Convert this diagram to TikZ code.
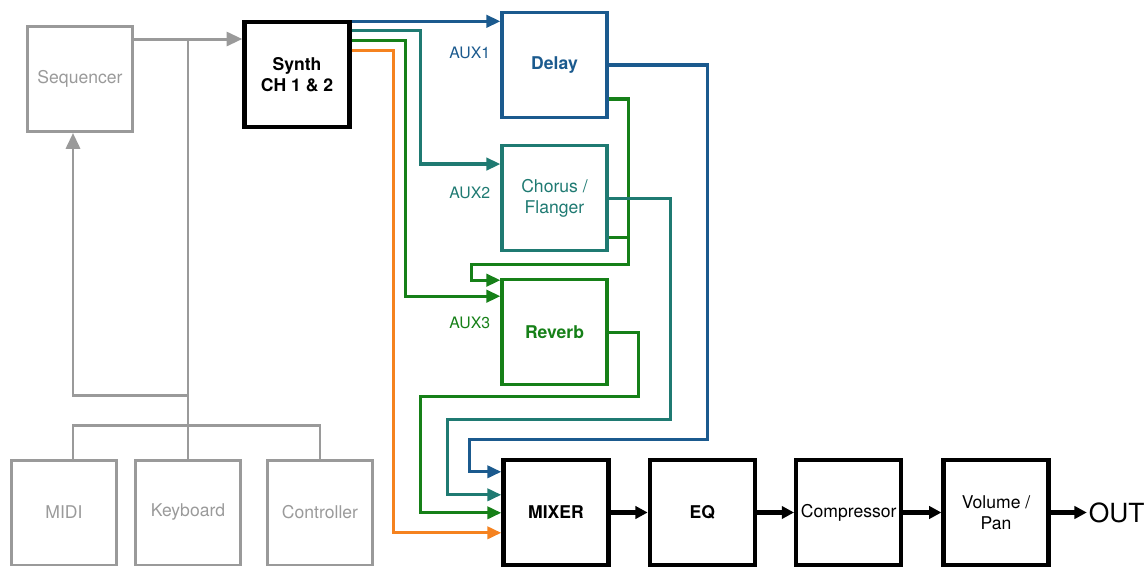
\documentclass[tikz,border=0pt]{standalone}
\usepackage{fontspec}
\setmainfont{TeX Gyre Heros}
\usepackage{xcolor}
\definecolor{AuxBlue}{HTML}{1B5A8E}
\definecolor{AuxTeal}{HTML}{1F7A72}
\definecolor{AuxGreen}{HTML}{168018}
\definecolor{DryOrange}{HTML}{F5821F}
\definecolor{CtrlGray}{HTML}{9A9A9A}
\usetikzlibrary{arrows.meta}
\usetikzlibrary{calc}
\usetikzlibrary{positioning}

\begin{document}
\begin{tikzpicture}[x=0.02cm, y=-0.02cm,
    box/.style={shape=rectangle, minimum size=2.1cm, align=center, inner sep=0pt},
    ctrlbox/.style={box, draw=CtrlGray, text=CtrlGray, line width=1.7pt},
    fxbox/.style={box, draw=#1, text=#1, line width=1.8pt},
    mainbox/.style={box, draw=black, line width=2.5pt},
    ctrlline/.style={draw=CtrlGray, line width=1.7pt},
    ctrlarrow/.style={ctrlline, -{Triangle[length=9pt,width=8pt]}},
    sendline/.style={draw=#1, line width=1.8pt, -{Triangle[length=8pt,width=7pt]}},
    mainline/.style={line width=2.5pt, -{Triangle[length=7pt,width=7pt]}},
    auxlabel/.style={font=\small, anchor=east, inner sep=0pt}]

    \useasboundingbox (0,0) rectangle (1145,567);

    \node[name=seq, ctrlbox] at (80,79) {Sequencer};
    \node[name=synth, mainbox, font=\bfseries] at (297,74.5) {Synth\\CH 1 \& 2};
    \node[name=midi, ctrlbox] at (64,512.5) {MIDI};
    \node[name=kbd, ctrlbox] at (188,512.5) {Keyboard};
    \node[name=ctrl, ctrlbox] at (320,512.5) {Controller};

    \node[name=delay, fxbox=AuxBlue, font=\bfseries] at (554.5,65) {Delay};
    \node[name=chorus, fxbox=AuxTeal, below=0.5cm of delay] {Chorus /\\Flanger};
    \node[name=reverb, fxbox=AuxGreen, font=\bfseries, below=0.52cm of chorus] {Reverb};

    \node[name=aux1, auxlabel, text=AuxBlue] at ($(delay.west)+(-10,-12)$) {AUX1};
    \node[name=aux2, auxlabel, text=AuxTeal] at ($(chorus.west)+(-10,-5)$) {AUX2};
    \node[name=aux3, auxlabel, text=AuxGreen] at ($(reverb.west)+(-10,-9)$) {AUX3};

    \node[name=mixer, mainbox, font=\bfseries] at (556,512.5) {MIXER};
    \node[name=eq, mainbox, font=\bfseries, right=0.74cm of mixer] {EQ};
    \node[name=comp, mainbox, right=0.74cm of eq] {Compressor};
    \node[name=vol, mainbox, right=0.76cm of comp] {Volume /\\Pan};
    \node[name=out, right=0.72cm of vol, inner sep=1pt,
      font=\fontsize{15}{18}\selectfont] {OUT};

    % control inputs
    \coordinate (seqout) at ($(seq.north east)+(0,14)$);
    \coordinate (hub) at ($(kbd.north)+(0,-33)$);
    \coordinate (split) at ($(kbd.north)+(0,-63)$);
    \draw[ctrlarrow] (seqout) -- (synth.west |- seqout);
    \draw[ctrlline] (kbd.north) -- (kbd.north |- seqout);
    \draw[ctrlline] ($(midi.north)+(9,0)$) |- (hub) -| (ctrl.north);
    \draw[ctrlarrow] (split) -| ($(seq.south)+(-7,0)$);

    % sends
    \coordinate (s1) at ($(synth.north east)+(0,1.5)$);
    \coordinate (s2) at ($(synth.north east)+(0,11)$);
    \coordinate (s3) at ($(synth.north east)+(0,21)$);
    \coordinate (s4) at ($(synth.north east)+(0,31)$);
    \coordinate (c2) at ($(chorus.north west)+(0,20)$);
    \coordinate (r1) at ($(reverb.north west)+(0,2)$);
    \coordinate (r2) at ($(reverb.north west)+(0,18)$);
    \coordinate (m1) at ($(mixer.north west)+(0,14)$);
    \coordinate (m2) at ($(mixer.north west)+(0,37)$);
    \coordinate (m3) at ($(mixer.north west)+(0,55)$);
    \coordinate (m4) at ($(mixer.north west)+(0,75)$);

    \draw[sendline=AuxBlue] (s1) -- (delay.west |- s1);
    \draw[sendline=AuxTeal] (s2) -| ($(c2)+(-80,0)$) -- (c2);
    \draw[sendline=AuxGreen] (s3) -| ($(r2)+(-95,0)$) -- (r2);
    \draw[sendline=DryOrange] (s4) -| ($(m4)+(-108,0)$) -- (m4);

    % returns
    \draw[sendline=AuxGreen] ($(delay.south east)+(0,-20)$) -- ++(20,0)
      |- ($(r1)+(-29,-16)$) |- (r1);
    \draw[AuxGreen, line width=1.8pt] ($(chorus.south east)+(0,-15)$) -- ++(20,0);
    \draw[sendline=AuxBlue] (delay.east) -- ++(99,0) |- ($(m1)+(-32,-32)$) |- (m1);
    \draw[sendline=AuxTeal] (chorus.east) -- ++(62,0) |- ($(m2)+(-54,-75)$) |- (m2);
    \draw[sendline=AuxGreen] (reverb.east) -- ++(30,0) |- ($(m3)+(-81,-116)$) |- (m3);

    \draw[mainline] (mixer) -- (eq);
    \draw[mainline] (eq) -- (comp);
    \draw[mainline] (comp) -- (vol);
    \draw[mainline] (vol) -- (out);
  \end{tikzpicture}
\end{document}
